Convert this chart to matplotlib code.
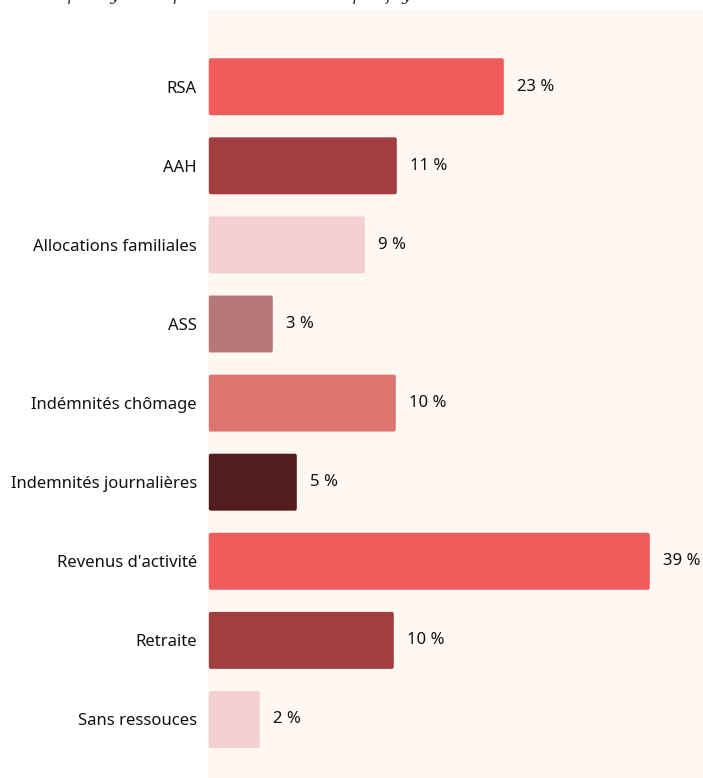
import matplotlib
matplotlib.use("Agg")
import matplotlib.pyplot as plt
from matplotlib.patches import FancyBboxPatch

# Données
categories = [
    "RSA", "AAH", "Allocations familiales", "ASS", "Indémnités chômage",
    "Indemnités journalières", "Revenus d'activité", "Retraite", "Sans ressouces",
]
longueurs = [295, 188, 156, 64, 187, 88, 441, 185, 51]
etiquettes = ["23 %", "11 %", "9 %", "3 %", "10 %", "5 %", "39 %", "10 %", "2 %"]
couleurs = [
    "#f05c5c", "#a23e3f", "#f3cfcf", "#b57877", "#dc746f",
    "#521d1e", "#f05c5c", "#a23e3f", "#f3cfcf",
]

plt.rcParams["font.family"] = ["Noto Sans", "DejaVu Sans"]

fig = plt.figure(figsize=(7.03, 7.78), dpi=100)
ax = fig.add_axes([208 / 703, 0, 495 / 703, 768 / 778])
ax.set_facecolor("#fff8f2")

y = list(range(len(categories)))
hauteur = 0.72
for i, (l, c) in enumerate(zip(longueurs, couleurs)):
    # barres aux coins légèrement arrondis
    p = FancyBboxPatch((0.8, i - hauteur / 2), l, hauteur,
                       boxstyle="round,pad=0,rounding_size=2",
                       mutation_aspect=0.013, facecolor=c, edgecolor="none")
    ax.add_patch(p)
    ax.text(l + 14, i, etiquettes[i], va="center", ha="left",
            fontsize=12, color="#111111")

ax.set_xlim(0, 495)
ax.set_ylim(len(categories) - 1 + 0.74, -0.97)
ax.set_yticks(y)
ax.set_yticklabels(categories, fontsize=12, color="#111111")
ax.tick_params(axis="y", length=0, pad=8)
ax.set_xticks([])
for s in ax.spines.values():
    s.set_visible(False)

# sous-titre coupé en haut de l'image
fig.text(50 / 703, 1 + 4 / 778, "Il peut y avoir plusieurs ressources par foyer.",
         fontsize=12, style="italic", family="DejaVu Serif", color="#333333",
         ha="left", va="center")

fig.savefig("out.png", dpi=100)
